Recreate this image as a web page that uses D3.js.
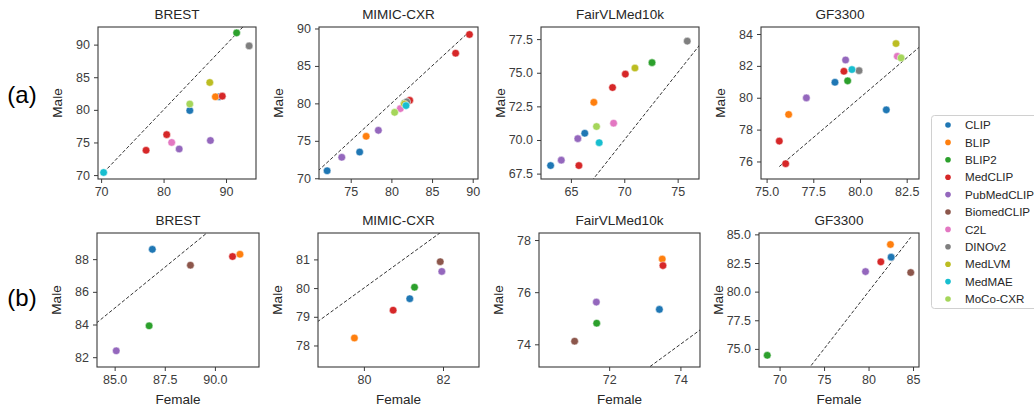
<!DOCTYPE html>
<html>
<head>
<meta charset="utf-8">
<script src="https://cdn.jsdelivr.net/npm/d3@7"></script>
<style>
  html, body { margin: 0; padding: 0; background: #fff; }
  svg { display: block; }
  text { font-family: "Liberation Sans", Arial, sans-serif; }
</style>
</head>
<body>
<svg id="chart" width="1034" height="406"></svg>
<script>
// ---------------- DATA ----------------
const legendModels = ["CLIP","BLIP","BLIP2","MedCLIP","PubMedCLIP","BiomedCLIP","C2L","DINOv2","MedLVM","MedMAE","MoCo-CXR"];
const modelColors = ["#1f77b4","#ff7f0e","#2ca02c","#d62728","#9467bd","#8c564b","#e377c2","#7f7f7f","#bcbd22","#17becf","#a5d65a"];
const datasets = ["BREST","MIMIC-CXR","FairVLMed10k","GF3300"];
const rowLabels = ["(a)","(b)"];

// Row (a): model of each point
const aModels = ["CLIP","CLIP","BLIP","BLIP2","MedCLIP","MedCLIP","MedCLIP","PubMedCLIP","PubMedCLIP","C2L","DINOv2","MedLVM","MedMAE","MoCo-CXR"];
const aBrestFemale  = [84.2, 88.9, 88.3, 91.7, 89.4, 80.5, 77.2, 82.5, 87.5, 81.3, 93.7, 87.4, 70.4, 84.2];
const aBrestMale    = [79.9, 82.0, 82.0, 91.8, 82.1, 76.2, 73.8, 74.0, 75.3, 75.0, 89.8, 84.2, 70.4, 80.9];
const aMimicFemale  = [76.1, 72.1, 76.9, 81.6, 89.6, 87.9, 82.25, 78.4, 73.9, 81.1, 81.9, 81.6, 81.8, 80.4];
const aMimicMale    = [73.5, 71.0, 75.6, 80.0, 89.2, 86.7, 80.4, 76.4, 72.8, 79.3, 80.2, 79.9, 79.7, 78.8];
const aFairFemale   = [66.3, 63.1, 67.15, 72.6, 70.1, 68.9, 65.75, 65.65, 64.1, 69.0, 75.9, 71.0, 67.65, 67.4];
const aFairMale     = [70.5, 68.1, 72.8, 75.75, 74.9, 73.9, 68.1, 70.1, 68.5, 71.25, 77.35, 75.35, 69.8, 71.0];
const aGfFemale     = [78.66, 81.41, 76.18, 79.34, 79.14, 75.68, 76.02, 79.23, 77.13, 82.0, 79.95, 81.93, 79.57, 82.2];
const aGfMale       = [80.97, 79.24, 78.95, 81.06, 81.66, 77.28, 75.86, 82.37, 79.99, 82.6, 81.7, 83.4, 81.77, 82.5];

// Row (b)
const bModels = ["CLIP","BLIP","BLIP2","MedCLIP","PubMedCLIP","BiomedCLIP"];
const bBrestFemale  = [86.88, 91.25, 86.72, 90.88, 85.08, 88.78];
const bBrestMale    = [88.6, 88.3, 83.92, 88.16, 82.39, 87.63];
const bMimicFemale  = [81.16, 79.76, 81.28, 80.74, 81.97, 81.93];
const bMimicMale    = [79.63, 78.26, 80.03, 79.23, 80.58, 80.92];
const bFairFemale   = [73.41, 73.49, 71.65, 73.51, 71.64, 71.03];
const bFairMale     = [75.34, 77.27, 74.81, 77.02, 75.62, 74.12];
const bGfFemale     = [82.54, 82.46, 68.62, 81.38, 79.66, 84.74];
const bGfMale       = [83.01, 84.12, 74.44, 82.6, 81.75, 81.67];

// Tick values
const aXTicks = [[70,80,90],[75,80,85,90],[65,70,75],[75,77.5,80,82.5]];
const aYTicks = [[70,75,80,85,90],[70,75,80,85,90],[67.5,70,72.5,75,77.5],[76,78,80,82,84]];
const bXTicks = [[85,87.5,90],[80,82],[72,74],[70,75,80,85]];
const bYTicks = [[82,84,86,88],[78,79,80,81],[74,76,78],[75,77.5,80,82.5,85]];

// ---------------- LAYOUT / CONFIG ----------------
const aDomX = [[69.5,94.8],[71.1,90.65],[62.2,77.0],[74.7,83.16]];
const aDomY = [[69.4,92.7],[69.9,90.2],[67.1,78.4],[74.9,84.44]];
const bDomX = [[84.12,92.2],[78.84,82.91],[70.03,74.55],[67.69,85.67]];
const bDomY = [[81.4,89.6],[77.25,81.92],[73.13,78.27],[73.42,85.12]];
const aBoxX = [[98,256],[319,478],[541,699],[761,919]];
const bBoxX = [[97,259],[318,479],[539,700],[759,919]];
const rowBoxY = [[27,179],[233,367]];
const rowLabelY = [94.5, 297.5];
const xFmt = [[d3.format("d"), d3.format("d"), d3.format("d"), d3.format(".1f")],
              [d3.format(".1f"), d3.format("d"), d3.format("d"), d3.format("d")]];
const yFmt = [[d3.format("d"), d3.format("d"), d3.format(".1f"), d3.format("d")],
              [d3.format("d"), d3.format("d"), d3.format("d"), d3.format(".1f")]];

const rows = [
  { models: aModels, female: [aBrestFemale,aMimicFemale,aFairFemale,aGfFemale], male: [aBrestMale,aMimicMale,aFairMale,aGfMale],
    domX: aDomX, domY: aDomY, xt: aXTicks, yt: aYTicks, boxX: aBoxX },
  { models: bModels, female: [bBrestFemale,bMimicFemale,bFairFemale,bGfFemale], male: [bBrestMale,bMimicMale,bFairMale,bGfMale],
    domX: bDomX, domY: bDomY, xt: bXTicks, yt: bYTicks, boxX: bBoxX }
];

const color = d3.scaleOrdinal().domain(legendModels).range(modelColors);
const svg = d3.select("#chart");
svg.append("rect").attr("width",1034).attr("height",406).attr("fill","#fff");

const axisColor = "#3a3a3a";
const textColor = "#3c3c3c";

rows.forEach((row, ri) => {
  const [y0, y1] = rowBoxY[ri];
  // row label
  svg.append("text").attr("x", 22).attr("y", rowLabelY[ri] + 8)
    .attr("text-anchor","middle").attr("font-size", 24).attr("fill","#000")
    .attr("font-family","Carlito, 'Open Sans', 'Liberation Sans', sans-serif")
    .text(rowLabels[ri]);

  datasets.forEach((ds, di) => {
    const [x0, x1] = row.boxX[di];
    const xs = d3.scaleLinear().domain(row.domX[di]).range([x0, x1]);
    const ys = d3.scaleLinear().domain(row.domY[di]).range([y1, y0]);
    const g = svg.append("g");
    const clipId = `clip-${ri}-${di}`;
    svg.append("clipPath").attr("id", clipId).append("rect")
      .attr("x", x0).attr("y", y0).attr("width", x1 - x0).attr("height", y1 - y0);

    // axes
    const xAxis = d3.axisBottom(xs).tickValues(row.xt[di]).tickSize(4).tickPadding(4).tickFormat(xFmt[ri][di]);
    const yAxis = d3.axisLeft(ys).tickValues(row.yt[di]).tickSize(4).tickPadding(4).tickFormat(yFmt[ri][di]);
    const gx = g.append("g").attr("transform", `translate(0,${y1})`).call(xAxis);
    const gy = g.append("g").attr("transform", `translate(${x0},0)`).call(yAxis);
    [gx, gy].forEach(a => {
      a.select(".domain").remove();
      a.selectAll(".tick line").attr("stroke", axisColor).attr("stroke-width", 1);
      a.selectAll(".tick text").attr("fill", textColor).attr("font-size", 12.5)
        .attr("font-family", "'Liberation Sans', Arial, sans-serif");
    });

    // diagonal y = x from min to max of all values
    const all = row.female[di].concat(row.male[di]);
    const [mn, mx] = d3.extent(all);
    g.append("line").attr("clip-path", `url(#${clipId})`)
      .attr("x1", xs(mn)).attr("y1", ys(mn)).attr("x2", xs(mx)).attr("y2", ys(mx))
      .attr("stroke", "#333").attr("stroke-width", 1).attr("stroke-dasharray", "3.5,2");

    // points
    const pts = row.models.map((m, i) => ({ m, f: row.female[di][i], v: row.male[di][i] }));
    g.append("g").selectAll("circle").data(pts).join("circle")
      .attr("cx", d => xs(d.f)).attr("cy", d => ys(d.v)).attr("r", 3.8)
      .attr("fill", d => color(d.m)).attr("stroke", "#fff").attr("stroke-width", 0.5);

    // frame
    g.append("rect").attr("x", x0).attr("y", y0).attr("width", x1 - x0).attr("height", y1 - y0)
      .attr("fill", "none").attr("stroke", axisColor).attr("stroke-width", 1.1);

    // title
    g.append("text").attr("x", (x0 + x1) / 2).attr("y", y0 - 8)
      .attr("text-anchor", "middle").attr("font-size", 13.5).attr("fill", "#262626").text(ds);

    // y label
    g.append("text").attr("transform", `translate(${x0 - 36},${(y0 + y1) / 2}) rotate(-90)`)
      .attr("text-anchor", "middle").attr("font-size", 13.5).attr("fill", "#262626").text("Male");

    // x label (bottom row)
    if (ri === 1) {
      g.append("text").attr("x", (x0 + x1) / 2).attr("y", 404)
        .attr("text-anchor", "middle").attr("font-size", 13.5).attr("fill", "#262626").text("Female");
    }
  });
});

// legend
const lg = svg.append("g");
lg.append("rect").attr("x", 931.5).attr("y", 115.5).attr("width", 120).attr("height", 193)
  .attr("rx", 3).attr("fill", "#fff").attr("stroke", "#d0d0d0").attr("stroke-width", 1);
legendModels.forEach((m, i) => {
  const y = 125 + i * 17.4;
  lg.append("circle").attr("cx", 948).attr("cy", y).attr("r", 2.8).attr("fill", color(m));
  lg.append("text").attr("x", 965).attr("y", y + 4.2).attr("font-size", 11.6).attr("fill", "#262626").text(m);
});
</script>
</body>
</html>
